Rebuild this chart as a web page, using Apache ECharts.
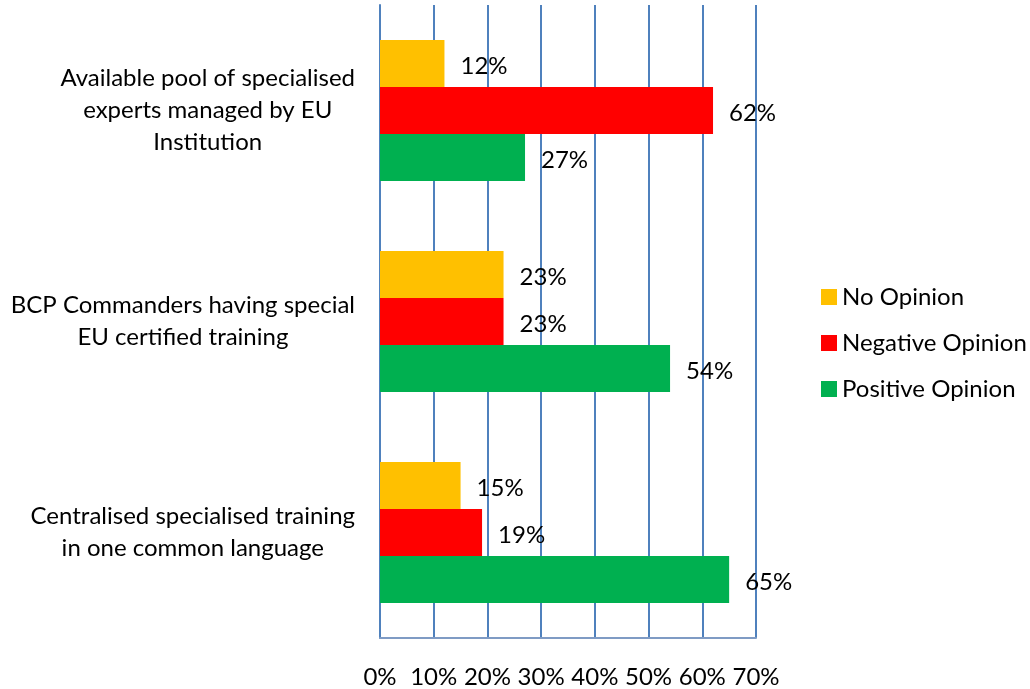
<!DOCTYPE html>
<html>
<head>
<meta charset="utf-8">
<script src="https://cdn.jsdelivr.net/npm/echarts@6/dist/echarts.min.js"></script>
<style>
  html, body { margin: 0; padding: 0; background: #fff; }
  #chart { width: 1030px; height: 689px; }
</style>
</head>
<body>
<div id="chart"></div>
<script>
  var categories = [
    'Available pool of specialised\nexperts managed by EU\nInstitution',
    'BCP Commanders having special\nEU certified training',
    'Centralised specialised training\nin one common language'
  ]
  var noOpinion = [12, 23, 15]
  var negativeOpinion = [62, 23, 19]
  var positiveOpinion = [27, 54, 65]
  var xTicks = [0, 10, 20, 30, 40, 50, 60, 70]

  var font = 'Lato'
  var fontSize = 24
  var gridBlue = '#4F81BD'

  function barSeries(name, data, color) {
    return {
      name: name,
      type: 'bar',
      data: data,
      barWidth: 47,
      barGap: '0%',
      itemStyle: { color: color },
      label: {
        show: true,
        position: 'right',
        distance: 16,
        offset: [0, 3],
        formatter: '{c}%',
        color: '#000',
        fontFamily: font,
        fontSize: fontSize
      }
    }
  }

  var chart = echarts.init(document.getElementById('chart'))
  chart.setOption({
    backgroundColor: '#fff',
    animation: false,
    grid: {
      left: 380,
      right: 274,
      top: 5,
      bottom: 50,
      containLabel: false
    },
    legend: {
      orient: 'vertical',
      left: 816,
      top: 280,
      icon: 'rect',
      itemWidth: 16,
      itemHeight: 16,
      itemGap: 22,
      textStyle: {
        fontFamily: font,
        fontSize: fontSize,
        color: '#000'
      },
      data: ['No Opinion', 'Negative Opinion', 'Positive Opinion']
    },
    xAxis: {
      type: 'value',
      min: xTicks[0],
      max: xTicks[xTicks.length - 1],
      interval: 10,
      axisLine: { show: true, lineStyle: { color: '#7F9BC4', width: 2 } },
      axisTick: { show: false },
      axisLabel: {
        formatter: '{value}%',
        margin: 27,
        color: '#000',
        fontFamily: font,
        fontSize: fontSize
      },
      splitLine: { show: true, lineStyle: { color: gridBlue, width: 2 } }
    },
    yAxis: {
      type: 'category',
      inverse: true,
      data: categories,
      axisLine: { show: true, lineStyle: { color: gridBlue, width: 2 } },
      axisTick: { show: false },
      axisLabel: {
        margin: 25,
        align: 'right',
        formatter: function (v) {
          return v.split('\n').map(function (s) { return '{c|' + s + '}' }).join('\n')
        },
        rich: {
          c: {
            align: 'center',
            fontFamily: font,
            fontSize: fontSize,
            lineHeight: 32,
            color: '#000'
          }
        }
      }
    },
    series: [
      barSeries('No Opinion', noOpinion, '#FFC000'),
      barSeries('Negative Opinion', negativeOpinion, '#FF0000'),
      barSeries('Positive Opinion', positiveOpinion, '#00B050')
    ]
  })
</script>
</body>
</html>
